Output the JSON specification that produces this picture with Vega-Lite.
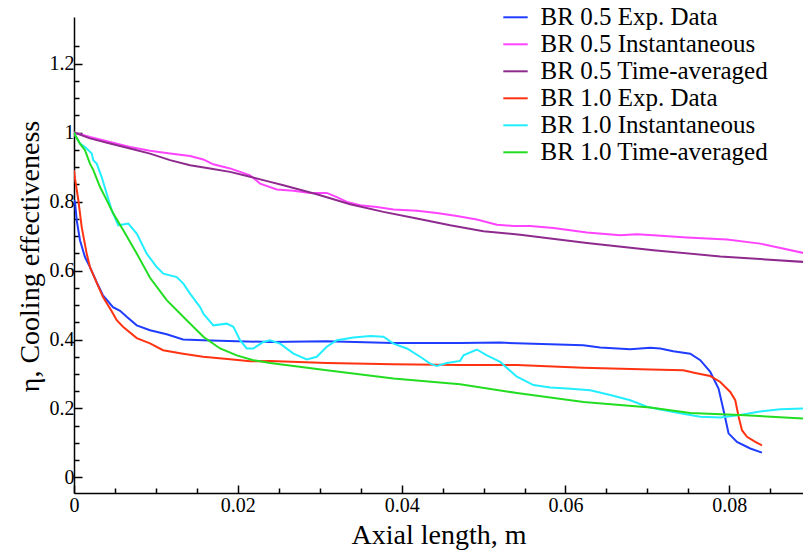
{
  "$schema": "https://vega.github.io/schema/vega-lite/v6.json",
  "width": 729,
  "height": 476,
  "autosize": {"type": "none"},
  "padding": {"left": 74, "top": 17, "right": 0, "bottom": 63},
  "background": "white",
  "config": {
    "view": {"stroke": null},
    "font": "Liberation Serif",
    "axis": {"grid": false, "domainColor": "black", "domainWidth": 1.5, "tickColor": "black", "tickWidth": 1.5, "labelColor": "black", "titleColor": "black", "labelFont": "Liberation Serif", "titleFont": "Liberation Serif", "titleFontWeight": "normal", "labelFontSize": 20, "titleFontSize": 28}
  },
  "data": {"values": [
    {"s":"BR 0.5 Exp. Data","x":0,"y":0.804},{"s":"BR 0.5 Exp. Data","x":0.00012,"y":0.799},{"s":"BR 0.5 Exp. Data","x":0.00033,"y":0.746},{"s":"BR 0.5 Exp. Data","x":0.00073,"y":0.688},{"s":"BR 0.5 Exp. Data","x":0.00134,"y":0.639},{"s":"BR 0.5 Exp. Data","x":0.00195,"y":0.610},{"s":"BR 0.5 Exp. Data","x":0.00277,"y":0.566},{"s":"BR 0.5 Exp. Data","x":0.00354,"y":0.528},{"s":"BR 0.5 Exp. Data","x":0.00476,"y":0.494},{"s":"BR 0.5 Exp. Data","x":0.00562,"y":0.483},{"s":"BR 0.5 Exp. Data","x":0.00647,"y":0.465},{"s":"BR 0.5 Exp. Data","x":0.00766,"y":0.441},{"s":"BR 0.5 Exp. Data","x":0.00928,"y":0.427},{"s":"BR 0.5 Exp. Data","x":0.01132,"y":0.415},{"s":"BR 0.5 Exp. Data","x":0.01331,"y":0.400},{"s":"BR 0.5 Exp. Data","x":0.01576,"y":0.398},{"s":"BR 0.5 Exp. Data","x":0.01987,"y":0.395},{"s":"BR 0.5 Exp. Data","x":0.02394,"y":0.393},{"s":"BR 0.5 Exp. Data","x":0.03086,"y":0.395},{"s":"BR 0.5 Exp. Data","x":0.03896,"y":0.390},{"s":"BR 0.5 Exp. Data","x":0.04714,"y":0.390},{"s":"BR 0.5 Exp. Data","x":0.05203,"y":0.391},{"s":"BR 0.5 Exp. Data","x":0.05814,"y":0.386},{"s":"BR 0.5 Exp. Data","x":0.06217,"y":0.383},{"s":"BR 0.5 Exp. Data","x":0.06424,"y":0.377},{"s":"BR 0.5 Exp. Data","x":0.06791,"y":0.372},{"s":"BR 0.5 Exp. Data","x":0.07035,"y":0.376},{"s":"BR 0.5 Exp. Data","x":0.07157,"y":0.374},{"s":"BR 0.5 Exp. Data","x":0.07316,"y":0.366},{"s":"BR 0.5 Exp. Data","x":0.07524,"y":0.359},{"s":"BR 0.5 Exp. Data","x":0.07646,"y":0.340},{"s":"BR 0.5 Exp. Data","x":0.07768,"y":0.306},{"s":"BR 0.5 Exp. Data","x":0.07869,"y":0.258},{"s":"BR 0.5 Exp. Data","x":0.07930,"y":0.195},{"s":"BR 0.5 Exp. Data","x":0.07991,"y":0.128},{"s":"BR 0.5 Exp. Data","x":0.08094,"y":0.103},{"s":"BR 0.5 Exp. Data","x":0.08256,"y":0.084},{"s":"BR 0.5 Exp. Data","x":0.08399,"y":0.072},
    {"s":"BR 0.5 Instantaneous","x":0,"y":1.0},{"s":"BR 0.5 Instantaneous","x":0.00195,"y":0.987},{"s":"BR 0.5 Instantaneous","x":0.00440,"y":0.973},{"s":"BR 0.5 Instantaneous","x":0.00684,"y":0.958},{"s":"BR 0.5 Instantaneous","x":0.00928,"y":0.947},{"s":"BR 0.5 Instantaneous","x":0.01172,"y":0.939},{"s":"BR 0.5 Instantaneous","x":0.01417,"y":0.932},{"s":"BR 0.5 Instantaneous","x":0.01579,"y":0.922},{"s":"BR 0.5 Instantaneous","x":0.01701,"y":0.908},{"s":"BR 0.5 Instantaneous","x":0.01905,"y":0.896},{"s":"BR 0.5 Instantaneous","x":0.02150,"y":0.876},{"s":"BR 0.5 Instantaneous","x":0.02272,"y":0.852},{"s":"BR 0.5 Instantaneous","x":0.02476,"y":0.835},{"s":"BR 0.5 Instantaneous","x":0.02679,"y":0.831},{"s":"BR 0.5 Instantaneous","x":0.02882,"y":0.825},{"s":"BR 0.5 Instantaneous","x":0.03086,"y":0.825},{"s":"BR 0.5 Instantaneous","x":0.03209,"y":0.813},{"s":"BR 0.5 Instantaneous","x":0.03331,"y":0.799},{"s":"BR 0.5 Instantaneous","x":0.03493,"y":0.789},{"s":"BR 0.5 Instantaneous","x":0.03697,"y":0.784},{"s":"BR 0.5 Instantaneous","x":0.03900,"y":0.777},{"s":"BR 0.5 Instantaneous","x":0.04186,"y":0.773},{"s":"BR 0.5 Instantaneous","x":0.04430,"y":0.767},{"s":"BR 0.5 Instantaneous","x":0.04674,"y":0.758},{"s":"BR 0.5 Instantaneous","x":0.04918,"y":0.748},{"s":"BR 0.5 Instantaneous","x":0.05163,"y":0.733},{"s":"BR 0.5 Instantaneous","x":0.05366,"y":0.729},{"s":"BR 0.5 Instantaneous","x":0.05569,"y":0.729},{"s":"BR 0.5 Instantaneous","x":0.05854,"y":0.723},{"s":"BR 0.5 Instantaneous","x":0.06262,"y":0.710},{"s":"BR 0.5 Instantaneous","x":0.06669,"y":0.702},{"s":"BR 0.5 Instantaneous","x":0.06873,"y":0.705},{"s":"BR 0.5 Instantaneous","x":0.07075,"y":0.702},{"s":"BR 0.5 Instantaneous","x":0.07483,"y":0.696},{"s":"BR 0.5 Instantaneous","x":0.07972,"y":0.690},{"s":"BR 0.5 Instantaneous","x":0.08378,"y":0.678},{"s":"BR 0.5 Instantaneous","x":0.08904,"y":0.651},
    {"s":"BR 0.5 Time-averaged","x":0,"y":1.0},{"s":"BR 0.5 Time-averaged","x":0.00195,"y":0.983},{"s":"BR 0.5 Time-averaged","x":0.00440,"y":0.968},{"s":"BR 0.5 Time-averaged","x":0.00684,"y":0.954},{"s":"BR 0.5 Time-averaged","x":0.00928,"y":0.939},{"s":"BR 0.5 Time-averaged","x":0.01172,"y":0.920},{"s":"BR 0.5 Time-averaged","x":0.01417,"y":0.905},{"s":"BR 0.5 Time-averaged","x":0.01661,"y":0.896},{"s":"BR 0.5 Time-averaged","x":0.01905,"y":0.886},{"s":"BR 0.5 Time-averaged","x":0.02150,"y":0.872},{"s":"BR 0.5 Time-averaged","x":0.02394,"y":0.857},{"s":"BR 0.5 Time-averaged","x":0.02556,"y":0.847},{"s":"BR 0.5 Time-averaged","x":0.02964,"y":0.821},{"s":"BR 0.5 Time-averaged","x":0.03371,"y":0.792},{"s":"BR 0.5 Time-averaged","x":0.03778,"y":0.770},{"s":"BR 0.5 Time-averaged","x":0.04186,"y":0.751},{"s":"BR 0.5 Time-averaged","x":0.04592,"y":0.731},{"s":"BR 0.5 Time-averaged","x":0.04999,"y":0.714},{"s":"BR 0.5 Time-averaged","x":0.05447,"y":0.704},{"s":"BR 0.5 Time-averaged","x":0.06262,"y":0.680},{"s":"BR 0.5 Time-averaged","x":0.07075,"y":0.659},{"s":"BR 0.5 Time-averaged","x":0.07890,"y":0.641},{"s":"BR 0.5 Time-averaged","x":0.08904,"y":0.625},
    {"s":"BR 1.0 Exp. Data","x":0,"y":0.891},{"s":"BR 1.0 Exp. Data","x":0.00012,"y":0.867},{"s":"BR 1.0 Exp. Data","x":0.00053,"y":0.804},{"s":"BR 1.0 Exp. Data","x":0.00094,"y":0.726},{"s":"BR 1.0 Exp. Data","x":0.00155,"y":0.649},{"s":"BR 1.0 Exp. Data","x":0.00195,"y":0.610},{"s":"BR 1.0 Exp. Data","x":0.00277,"y":0.565},{"s":"BR 1.0 Exp. Data","x":0.00354,"y":0.523},{"s":"BR 1.0 Exp. Data","x":0.00460,"y":0.482},{"s":"BR 1.0 Exp. Data","x":0.00522,"y":0.456},{"s":"BR 1.0 Exp. Data","x":0.00598,"y":0.437},{"s":"BR 1.0 Exp. Data","x":0.00766,"y":0.404},{"s":"BR 1.0 Exp. Data","x":0.00928,"y":0.389},{"s":"BR 1.0 Exp. Data","x":0.01087,"y":0.369},{"s":"BR 1.0 Exp. Data","x":0.01331,"y":0.359},{"s":"BR 1.0 Exp. Data","x":0.01576,"y":0.350},{"s":"BR 1.0 Exp. Data","x":0.01905,"y":0.343},{"s":"BR 1.0 Exp. Data","x":0.02150,"y":0.337},{"s":"BR 1.0 Exp. Data","x":0.02394,"y":0.338},{"s":"BR 1.0 Exp. Data","x":0.03086,"y":0.332},{"s":"BR 1.0 Exp. Data","x":0.03896,"y":0.328},{"s":"BR 1.0 Exp. Data","x":0.04714,"y":0.326},{"s":"BR 1.0 Exp. Data","x":0.05407,"y":0.326},{"s":"BR 1.0 Exp. Data","x":0.06217,"y":0.318},{"s":"BR 1.0 Exp. Data","x":0.07035,"y":0.313},{"s":"BR 1.0 Exp. Data","x":0.07438,"y":0.311},{"s":"BR 1.0 Exp. Data","x":0.07585,"y":0.303},{"s":"BR 1.0 Exp. Data","x":0.07768,"y":0.294},{"s":"BR 1.0 Exp. Data","x":0.07890,"y":0.277},{"s":"BR 1.0 Exp. Data","x":0.08012,"y":0.248},{"s":"BR 1.0 Exp. Data","x":0.08073,"y":0.224},{"s":"BR 1.0 Exp. Data","x":0.08114,"y":0.176},{"s":"BR 1.0 Exp. Data","x":0.08155,"y":0.137},{"s":"BR 1.0 Exp. Data","x":0.08216,"y":0.118},{"s":"BR 1.0 Exp. Data","x":0.08318,"y":0.103},{"s":"BR 1.0 Exp. Data","x":0.08399,"y":0.093},
    {"s":"BR 1.0 Instantaneous","x":0,"y":1.0},{"s":"BR 1.0 Instantaneous","x":0.00012,"y":0.993},{"s":"BR 1.0 Instantaneous","x":0.00073,"y":0.968},{"s":"BR 1.0 Instantaneous","x":0.00134,"y":0.958},{"s":"BR 1.0 Instantaneous","x":0.00175,"y":0.949},{"s":"BR 1.0 Instantaneous","x":0.00216,"y":0.939},{"s":"BR 1.0 Instantaneous","x":0.00236,"y":0.920},{"s":"BR 1.0 Instantaneous","x":0.00277,"y":0.910},{"s":"BR 1.0 Instantaneous","x":0.00338,"y":0.871},{"s":"BR 1.0 Instantaneous","x":0.00399,"y":0.823},{"s":"BR 1.0 Instantaneous","x":0.00460,"y":0.775},{"s":"BR 1.0 Instantaneous","x":0.00541,"y":0.731},{"s":"BR 1.0 Instantaneous","x":0.00663,"y":0.736},{"s":"BR 1.0 Instantaneous","x":0.00766,"y":0.707},{"s":"BR 1.0 Instantaneous","x":0.00888,"y":0.649},{"s":"BR 1.0 Instantaneous","x":0.01010,"y":0.610},{"s":"BR 1.0 Instantaneous","x":0.01091,"y":0.591},{"s":"BR 1.0 Instantaneous","x":0.01254,"y":0.581},{"s":"BR 1.0 Instantaneous","x":0.01335,"y":0.562},{"s":"BR 1.0 Instantaneous","x":0.01417,"y":0.533},{"s":"BR 1.0 Instantaneous","x":0.01539,"y":0.494},{"s":"BR 1.0 Instantaneous","x":0.01579,"y":0.475},{"s":"BR 1.0 Instantaneous","x":0.01701,"y":0.441},{"s":"BR 1.0 Instantaneous","x":0.01865,"y":0.446},{"s":"BR 1.0 Instantaneous","x":0.01946,"y":0.437},{"s":"BR 1.0 Instantaneous","x":0.02027,"y":0.398},{"s":"BR 1.0 Instantaneous","x":0.02109,"y":0.374},{"s":"BR 1.0 Instantaneous","x":0.02190,"y":0.374},{"s":"BR 1.0 Instantaneous","x":0.02312,"y":0.393},{"s":"BR 1.0 Instantaneous","x":0.02394,"y":0.398},{"s":"BR 1.0 Instantaneous","x":0.02516,"y":0.388},{"s":"BR 1.0 Instantaneous","x":0.02679,"y":0.359},{"s":"BR 1.0 Instantaneous","x":0.02842,"y":0.342},{"s":"BR 1.0 Instantaneous","x":0.02964,"y":0.350},{"s":"BR 1.0 Instantaneous","x":0.03086,"y":0.379},{"s":"BR 1.0 Instantaneous","x":0.03209,"y":0.398},{"s":"BR 1.0 Instantaneous","x":0.03411,"y":0.406},{"s":"BR 1.0 Instantaneous","x":0.03615,"y":0.410},{"s":"BR 1.0 Instantaneous","x":0.03778,"y":0.408},{"s":"BR 1.0 Instantaneous","x":0.03900,"y":0.388},{"s":"BR 1.0 Instantaneous","x":0.04064,"y":0.374},{"s":"BR 1.0 Instantaneous","x":0.04226,"y":0.350},{"s":"BR 1.0 Instantaneous","x":0.04348,"y":0.330},{"s":"BR 1.0 Instantaneous","x":0.04430,"y":0.323},{"s":"BR 1.0 Instantaneous","x":0.04552,"y":0.332},{"s":"BR 1.0 Instantaneous","x":0.04714,"y":0.338},{"s":"BR 1.0 Instantaneous","x":0.04755,"y":0.354},{"s":"BR 1.0 Instantaneous","x":0.04918,"y":0.371},{"s":"BR 1.0 Instantaneous","x":0.05041,"y":0.354},{"s":"BR 1.0 Instantaneous","x":0.05203,"y":0.335},{"s":"BR 1.0 Instantaneous","x":0.05407,"y":0.292},{"s":"BR 1.0 Instantaneous","x":0.05610,"y":0.268},{"s":"BR 1.0 Instantaneous","x":0.05814,"y":0.261},{"s":"BR 1.0 Instantaneous","x":0.06018,"y":0.258},{"s":"BR 1.0 Instantaneous","x":0.06302,"y":0.253},{"s":"BR 1.0 Instantaneous","x":0.06547,"y":0.239},{"s":"BR 1.0 Instantaneous","x":0.06791,"y":0.224},{"s":"BR 1.0 Instantaneous","x":0.06995,"y":0.205},{"s":"BR 1.0 Instantaneous","x":0.07157,"y":0.197},{"s":"BR 1.0 Instantaneous","x":0.07401,"y":0.186},{"s":"BR 1.0 Instantaneous","x":0.07646,"y":0.176},{"s":"BR 1.0 Instantaneous","x":0.07890,"y":0.174},{"s":"BR 1.0 Instantaneous","x":0.08134,"y":0.181},{"s":"BR 1.0 Instantaneous","x":0.08338,"y":0.190},{"s":"BR 1.0 Instantaneous","x":0.08623,"y":0.198},{"s":"BR 1.0 Instantaneous","x":0.08904,"y":0.200},
    {"s":"BR 1.0 Time-averaged","x":0,"y":1.0},{"s":"BR 1.0 Time-averaged","x":0.00012,"y":0.993},{"s":"BR 1.0 Time-averaged","x":0.00073,"y":0.968},{"s":"BR 1.0 Time-averaged","x":0.00134,"y":0.949},{"s":"BR 1.0 Time-averaged","x":0.00195,"y":0.910},{"s":"BR 1.0 Time-averaged","x":0.00236,"y":0.891},{"s":"BR 1.0 Time-averaged","x":0.00318,"y":0.842},{"s":"BR 1.0 Time-averaged","x":0.00399,"y":0.804},{"s":"BR 1.0 Time-averaged","x":0.00480,"y":0.765},{"s":"BR 1.0 Time-averaged","x":0.00602,"y":0.717},{"s":"BR 1.0 Time-averaged","x":0.00766,"y":0.649},{"s":"BR 1.0 Time-averaged","x":0.00928,"y":0.579},{"s":"BR 1.0 Time-averaged","x":0.01132,"y":0.514},{"s":"BR 1.0 Time-averaged","x":0.01376,"y":0.456},{"s":"BR 1.0 Time-averaged","x":0.01579,"y":0.408},{"s":"BR 1.0 Time-averaged","x":0.01783,"y":0.374},{"s":"BR 1.0 Time-averaged","x":0.01987,"y":0.354},{"s":"BR 1.0 Time-averaged","x":0.02190,"y":0.340},{"s":"BR 1.0 Time-averaged","x":0.02394,"y":0.332},{"s":"BR 1.0 Time-averaged","x":0.03086,"y":0.311},{"s":"BR 1.0 Time-averaged","x":0.03900,"y":0.287},{"s":"BR 1.0 Time-averaged","x":0.04714,"y":0.270},{"s":"BR 1.0 Time-averaged","x":0.05407,"y":0.245},{"s":"BR 1.0 Time-averaged","x":0.06221,"y":0.219},{"s":"BR 1.0 Time-averaged","x":0.07035,"y":0.203},{"s":"BR 1.0 Time-averaged","x":0.07524,"y":0.187},{"s":"BR 1.0 Time-averaged","x":0.08134,"y":0.181},{"s":"BR 1.0 Time-averaged","x":0.08904,"y":0.171}
  ]},
  "mark": {"type": "line", "strokeWidth": 2, "clip": true},
  "encoding": {
    "x": {"field": "x", "type": "quantitative", "scale": {"domain": [0, 0.089], "nice": false, "zero": false},
      "axis": {"title": "Axial length, m", "values": [0,0.005,0.01,0.015,0.02,0.025,0.03,0.035,0.04,0.045,0.05,0.055,0.06,0.065,0.07,0.075,0.08,0.085],
        "labelExpr": "abs(datum.value*50 - round(datum.value*50)) < 0.001 ? format(datum.value, '~g') : ''",
        "tickSize": {"condition": {"test": "abs(datum.value*50 - round(datum.value*50)) < 0.001", "value": -8}, "value": -5},
        "labelPadding": 10, "titleX": 364.5, "titleY": 50, "titleBaseline": "alphabetic", "titleAlign": "center", "labelFlush": false}},
    "y": {"field": "y", "type": "quantitative", "scale": {"domain": [-0.045, 1.335], "nice": false, "zero": false},
      "axis": {"title": "η, Cooling effectiveness", "values": [0,0.05,0.1,0.15,0.2,0.25,0.3,0.35,0.4,0.45,0.5,0.55,0.6,0.65,0.7,0.75,0.8,0.85,0.9,0.95,1,1.05,1.1,1.15,1.2,1.25],
        "labelExpr": "abs(datum.value*5 - round(datum.value*5)) < 0.001 ? format(datum.value, '~g') : ''",
        "tickSize": {"condition": {"test": "abs(datum.value*5 - round(datum.value*5)) < 0.001", "value": -8}, "value": -5},
        "labelPadding": 8, "titleX": -36, "titleY": 239, "titleAngle": -90, "titleBaseline": "alphabetic", "titleAlign": "center", "labelFlush": false}},
    "color": {"field": "s", "type": "nominal",
      "scale": {"domain": ["BR 0.5 Exp. Data","BR 0.5 Instantaneous","BR 0.5 Time-averaged","BR 1.0 Exp. Data","BR 1.0 Instantaneous","BR 1.0 Time-averaged"],
        "range": ["#1f3cff","#ff44ff","#8e2a8e","#ff3311","#22eeff","#22dd22"]},
      "legend": {"title": null, "orient": "none", "legendX": 428, "legendY": -13.2, "symbolType": "stroke", "symbolSize": 595, "symbolStrokeWidth": 2, "labelFontSize": 25, "labelFont": "Liberation Serif", "labelColor": "black", "labelOffset": 11.6, "rowPadding": 0, "labelLimit": 400}}
  }
}
